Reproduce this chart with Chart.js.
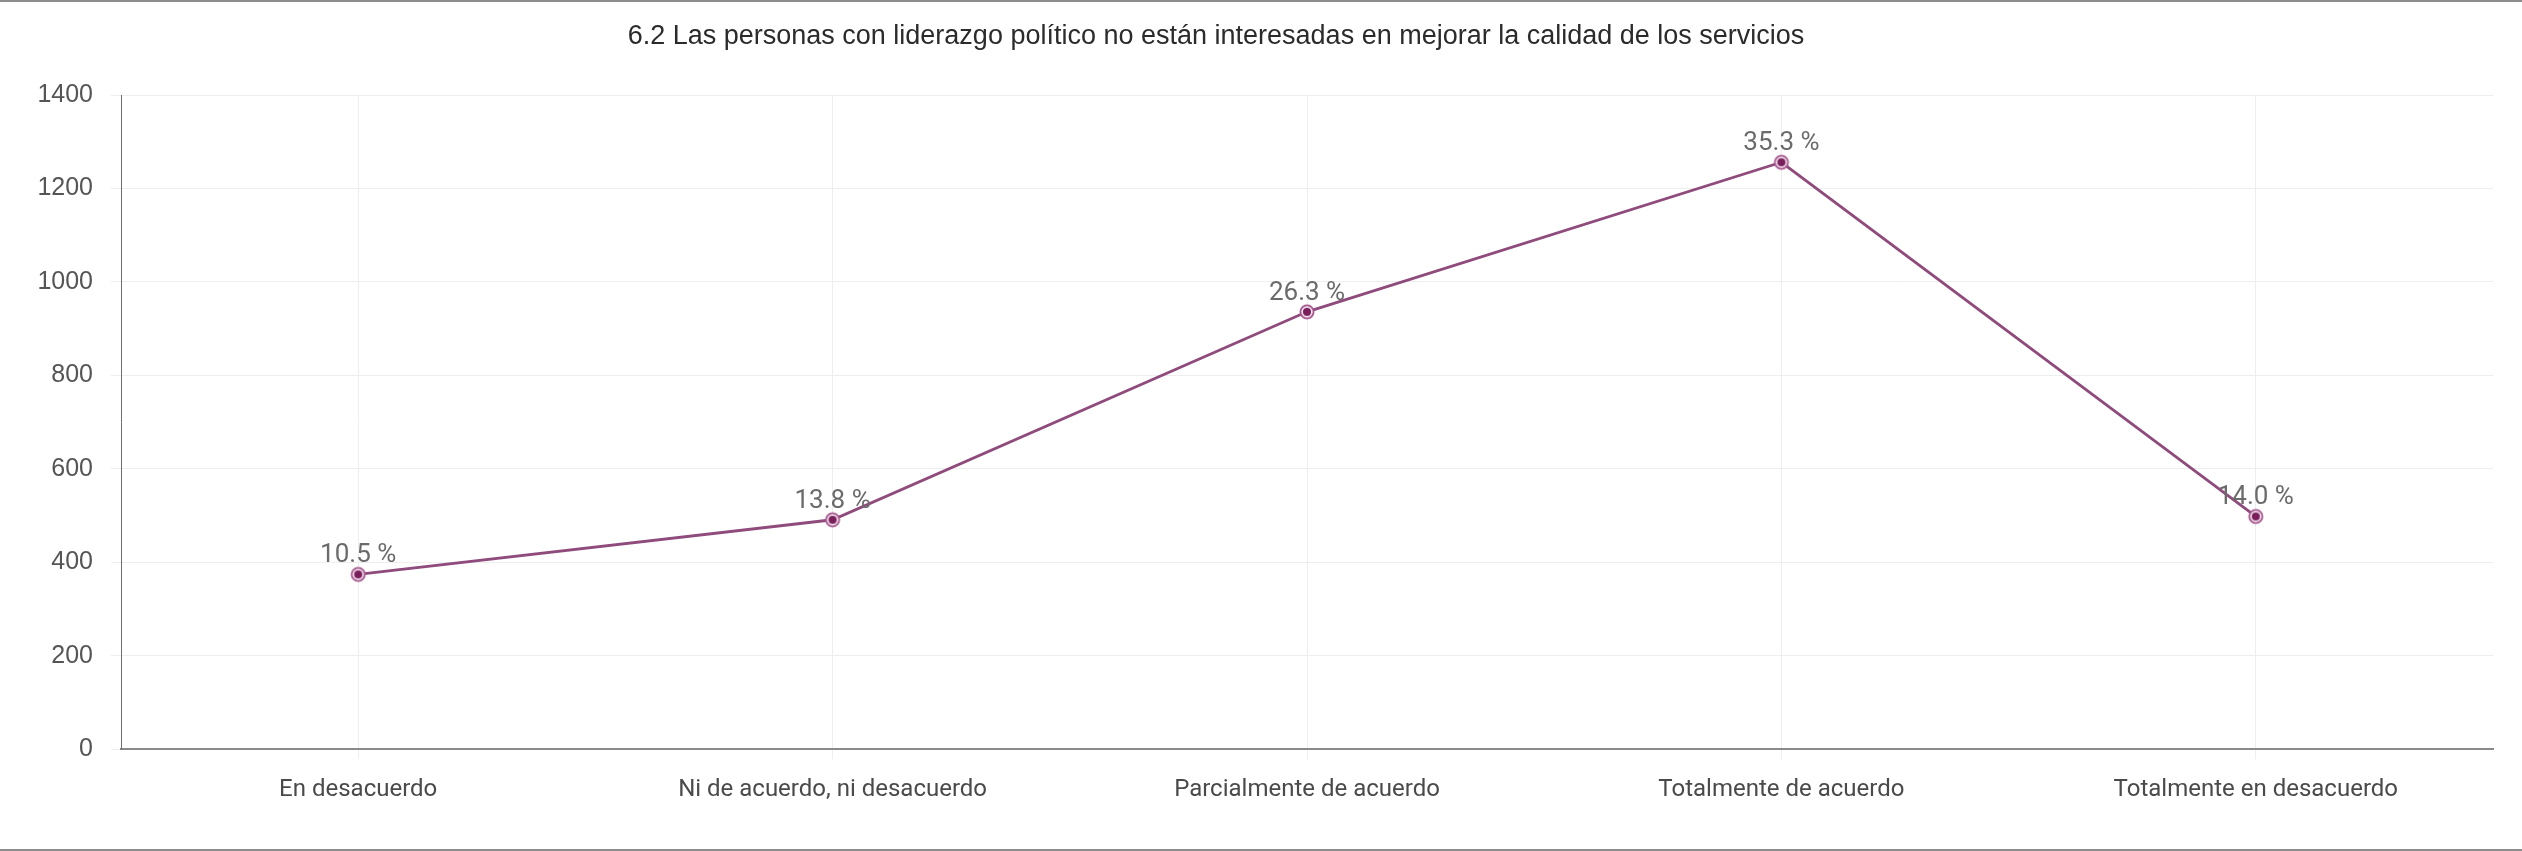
<!DOCTYPE html>
<html>
<head>
<meta charset="utf-8">
<script src="https://cdn.jsdelivr.net/npm/chart.js@4/dist/chart.umd.min.js"></script>
<style>
  html, body { margin: 0; padding: 0; background: #fff; }
  .wrap { position: relative; width: 2522px; height: 851px; box-sizing: border-box;
          border-top: 2px solid #8c8c8c; border-bottom: 2px solid #8c8c8c; }
  canvas { display: block; }
</style>
</head>
<body>
<div class="wrap"><canvas id="c" width="2522" height="847"></canvas></div>
<script>
const title = "6.2 Las personas con liderazgo político no están interesadas en mejorar la calidad de los servicios";
const categories = ["En desacuerdo", "Ni de acuerdo, ni desacuerdo", "Parcialmente de acuerdo", "Totalmente de acuerdo", "Totalmente en desacuerdo"];
const counts = [374, 491, 936, 1256, 498];
const percents = ["10.5 %", "13.8 %", "26.3 %", "35.3 %", "14.0 %"];
const yTicks = [0, 200, 400, 600, 800, 1000, 1200, 1400];

const lineColor = "#8f4b7c";

// ring + dot marker
function makeMarker() {
  const m = document.createElement("canvas");
  m.width = 18; m.height = 18;
  const g = m.getContext("2d");
  g.beginPath(); g.arc(9, 9, 6.6, 0, Math.PI * 2);
  g.fillStyle = "#f3e4ee"; g.fill();
  g.lineWidth = 1.8; g.strokeStyle = "#a5568f"; g.stroke();
  g.beginPath(); g.arc(9, 9, 4, 0, Math.PI * 2);
  g.fillStyle = "#7a1f5c"; g.fill();
  return m;
}

const pctLabels = {
  id: "pctLabels",
  afterDatasetsDraw(chart) {
    const ctx = chart.ctx;
    const meta = chart.getDatasetMeta(0);
    ctx.save();
    ctx.font = "26px Roboto";
    ctx.fillStyle = "#6b6b6b";
    ctx.textAlign = "center";
    ctx.textBaseline = "alphabetic";
    meta.data.forEach((pt, i) => {
      ctx.fillText(percents[i], pt.x, pt.y - 12);
    });
    // title, drawn slightly left of centre as in the source
    ctx.font = "27px 'Liberation Sans', Arial";
    ctx.fillStyle = "#2b2b2b";
    ctx.textBaseline = "middle";
    ctx.fillText(title, 1216, 35);
    ctx.restore();
  }
};

new Chart(document.getElementById("c"), {
  type: "line",
  data: {
    labels: categories,
    datasets: [{
      data: counts,
      borderColor: lineColor,
      borderWidth: 2.8,
      pointStyle: makeMarker(),
      pointRadius: 9,
      tension: 0
    }]
  },
  options: {
    responsive: false,
    animation: false,
    layout: { padding: { left: 0, right: 29, top: 93, bottom: 29 } },
    plugins: {
      legend: { display: false },
      tooltip: { enabled: false },
      title: { display: false }
    },
    scales: {
      x: {
        offset: true,
        grid: { color: "#eeeeee", tickLength: 10, offset: false },
        border: { color: "#8a8a8a", width: 2 },
        ticks: { color: "#4a4a4a", font: { family: "Roboto", size: 24 }, padding: 16, maxRotation: 0 }
      },
      y: {
        min: 0, max: 1400,
        afterFit(s) { s.width = 121; },
        afterBuildTicks(s) { s.ticks = yTicks.map(v => ({ value: v })); },
        grid: { color: "#eeeeee", tickLength: 10 },
        border: { color: "#6e6e6e", width: 1 },
        ticks: { color: "#555555", font: { family: "'Liberation Sans', Arial", size: 25 }, padding: 18,
                 callback: v => String(v) }
      }
    }
  },
  plugins: [pctLabels]
});
</script>
</body>
</html>
